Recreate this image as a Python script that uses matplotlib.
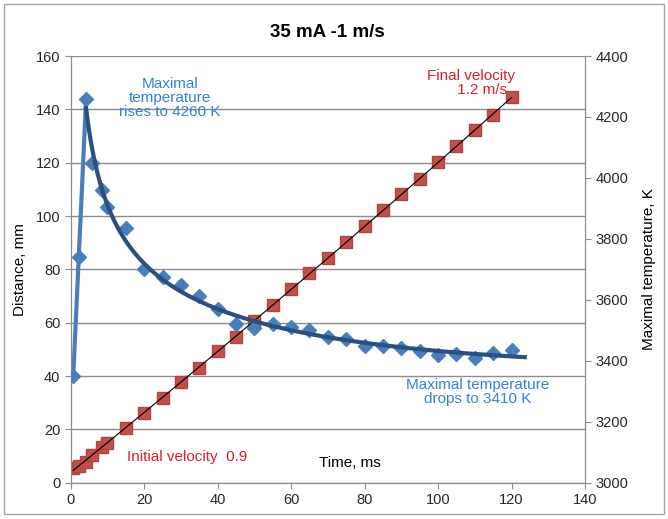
import numpy as np
import matplotlib.pyplot as plt
from matplotlib.patches import Rectangle

plt.rcParams['font.family'] = ['Liberation Sans', 'DejaVu Sans']

# time, ms
time_ms = [0.7, 2.2, 4.2, 5.8, 8.4, 10, 15, 20, 25, 30, 35, 40, 45, 50, 55, 60,
           65, 70, 75, 80, 85, 90, 95, 100, 105, 110, 115, 120]
# distance, mm (red squares)
distance = [5.5, 6.2, 7.9, 10.4, 13.5, 14.8, 20.4, 26.3, 31.7, 37.9, 42.9, 49.2,
            54.8, 60.8, 66.7, 72.6, 78.8, 84.2, 90.1, 96.1, 102.1, 108.3, 113.8,
            120.1, 126.3, 132.3, 137.9, 144.6]
# maximal temperature, K (blue diamonds)
temperature = [3350, 3740, 4260, 4050, 3960, 3905, 3835, 3700, 3675, 3650, 3612,
               3570, 3520, 3507, 3520, 3510, 3500, 3477, 3470, 3450, 3450, 3443,
               3433, 3420, 3423, 3410, 3424, 3436]

t = np.array(time_ms)
d = np.array(distance)
T = np.array(temperature)

grid_c = '#8c8c8c'
blue_pt = '#4a7ebb'
blue_fit = '#2b4f7e'
red_pt = '#c0504d'
blue_txt = '#3282d4'
red_txt = '#d8202c'

fig = plt.figure(figsize=(6.68, 5.19), dpi=100)
fig.patches.append(Rectangle((4 / 668, 5 / 519), 660 / 668, 510 / 519,
                             transform=fig.transFigure, fill=False,
                             edgecolor='#a6a6a6', linewidth=1))
ax1 = fig.add_axes([0.1058, 0.070, 0.770, 0.822])
ax2 = ax1.twinx()

# distance + trend
ax1.plot(t, d, 's', color=red_pt, markeredgecolor='#b04440', markersize=8, zorder=3)
p = np.polyfit(t, d, 2)
tt = np.linspace(t[0], t[-1], 200)
ax1.plot(tt, np.polyval(p, tt), color='black', linewidth=0.8, zorder=4)

# temperature: rise segment, points and trend after the peak
def basis(x):
    return np.column_stack([np.ones_like(x), x ** -0.35, x ** 2])

ax2.plot(t[:3], T[:3], color=blue_pt, linewidth=3, zorder=2)
ax2.plot(t, T, 'D', color=blue_pt, markersize=7.5, zorder=3)
coef = np.linalg.lstsq(basis(t[2:]), T[2:], rcond=None)[0]
tf = np.linspace(t[2], 123.6, 300)
ax2.plot(tf, basis(tf) @ coef, color=blue_fit, linewidth=3, zorder=4)

ax1.set_xlim(0, 140)
ax1.set_ylim(0, 160)
ax2.set_ylim(3000, 4400)
ax1.set_xticks(np.arange(0, 141, 20))
ax1.set_yticks(np.arange(0, 161, 20))
ax2.set_yticks(np.arange(3000, 4401, 200))
ax1.grid(axis='y', color=grid_c, linewidth=1)
ax1.set_axisbelow(True)

for ax in (ax1, ax2):
    for s in ax.spines.values():
        s.set_color(grid_c)
    ax.spines['top'].set_visible(False)
    ax.tick_params(colors='#262626', labelsize=10.5, length=4, width=0.8)
    ax.tick_params(axis='both', color=grid_c)

ax1.set_ylabel('Distance, mm', fontsize=11, labelpad=6)
ax2.set_ylabel('Maximal temperature, K', fontsize=11, labelpad=10)
ax1.set_title('35 mA -1 m/s', fontsize=13.5, fontweight='bold', pad=14)

ax1.text(76, 7.4, 'Time, ms', fontsize=11, ha='center', va='center')
ax1.text(27, 144.3, 'Maximal\ntemperature\nrises to 4260 K', color=blue_txt,
         fontsize=11, ha='center', va='center', linespacing=1.0)
ax1.text(110.7, 34, 'Maximal temperature\ndrops to 3410 K', color=blue_txt,
         fontsize=11, ha='center', va='center', linespacing=1.0)
ax1.text(109, 150, 'Final velocity\n     1.2 m/s', color=red_txt,
         fontsize=11, ha='center', va='center', linespacing=1.0)
ax1.text(15.3, 9.6, 'Initial velocity  0.9', color=red_txt,
         fontsize=11, ha='left', va='center')

fig.savefig('out.png', dpi=100)
